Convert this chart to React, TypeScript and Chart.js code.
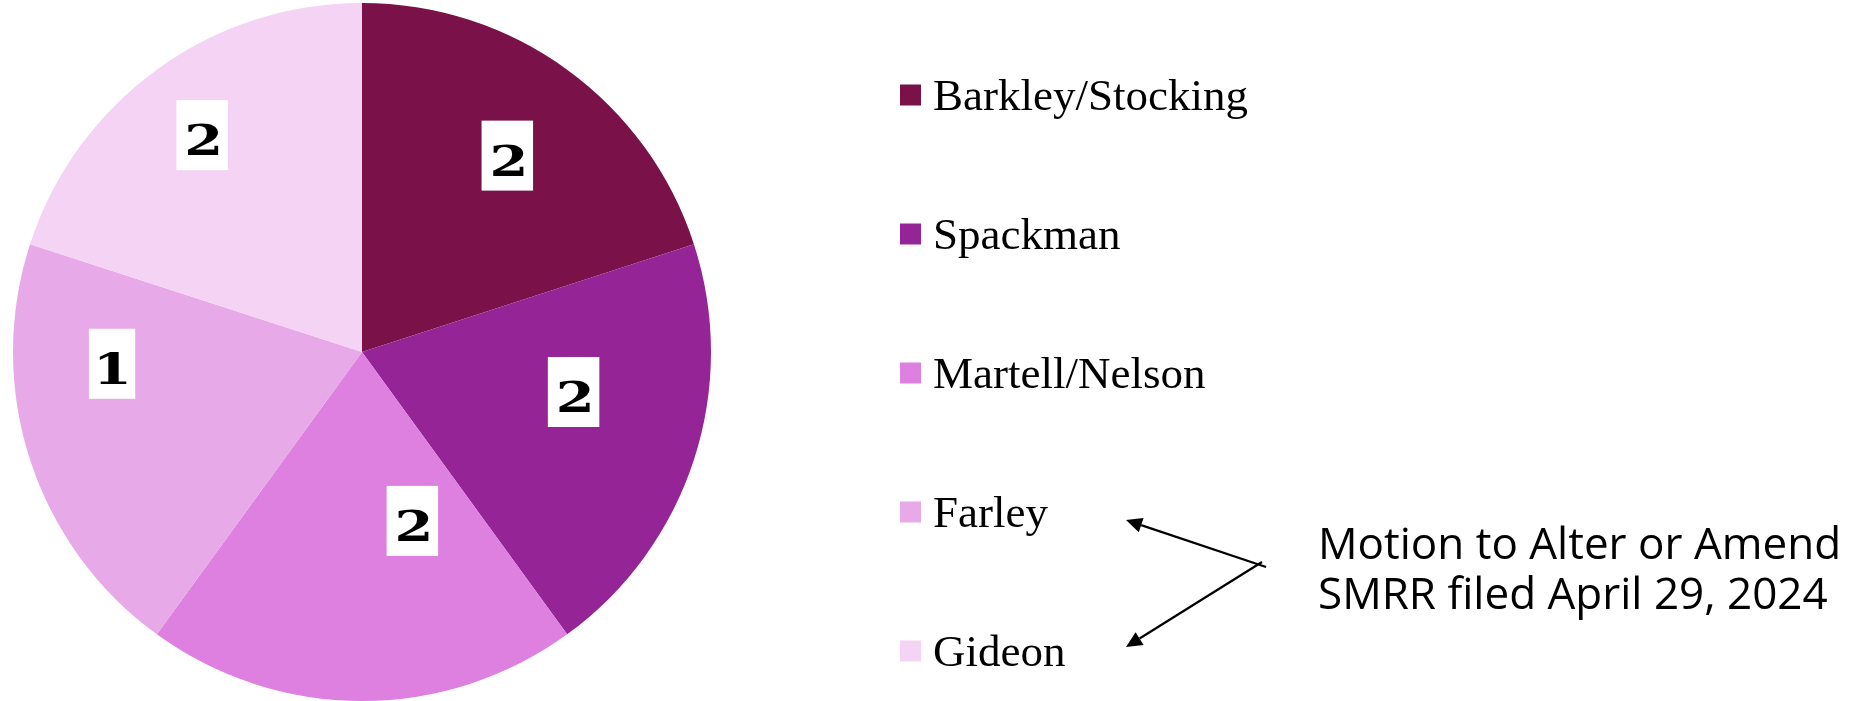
import React, { useEffect, useRef } from "react";
import { Chart, registerables } from "chart.js";

Chart.register(...registerables);

// ---- Data ----
const categories = ["Barkley/Stocking", "Spackman", "Martell/Nelson", "Farley", "Gideon"];
const sliceValues = [1, 1, 1, 1, 1];
const labelValues = [2, 2, 2, 1, 2];
const sliceColors = ["#7A1149", "#952496", "#DE80DF", "#E8A9E8", "#F4D3F4"];
const annotationLines = ["Motion to Alter or Amend", "SMRR filed April 29, 2024"];

// ---- Label placement (radius fraction, angle offset in degrees from slice middle) ----
const labelPlacement = [
  { r: 0.70, da: 0.5 },
  { r: 0.617, da: -7.3 },
  { r: 0.505, da: -16.6 },
  { r: 0.717, da: 15.3 },
  { r: 0.772, da: -0.4 },
];

const boxLabelPlugin = {
  id: "boxLabels",
  afterDatasetsDraw(chart: any, _args: any, opts: any) {
    const ctx = chart.ctx as CanvasRenderingContext2D;
    const meta = chart.getDatasetMeta(0);
    meta.data.forEach((arc: any, i: number) => {
      const p = arc.getProps(["x", "y", "startAngle", "endAngle", "outerRadius"], true);
      const place = opts.placement[i];
      const a = (p.startAngle + p.endAngle) / 2 + (place.da * Math.PI) / 180;
      const cx = p.x + Math.cos(a) * p.outerRadius * place.r;
      const cy = p.y + Math.sin(a) * p.outerRadius * place.r;
      const txt = String(opts.values[i]);
      ctx.save();
      ctx.font = opts.font;
      ctx.textAlign = "center";
      ctx.textBaseline = "alphabetic";
      const m = ctx.measureText(txt);
      const inkW = (m.actualBoundingBoxLeft + m.actualBoundingBoxRight) * opts.scaleX;
      const w = inkW + 19;
      const h = 70;
      ctx.fillStyle = "#ffffff";
      ctx.fillRect(cx - w / 2, cy - h / 2, w, h);
      ctx.translate(cx + 1, cy + 20);
      ctx.scale(opts.scaleX, 1);
      ctx.fillStyle = "#000000";
      const inkCenter = (m.actualBoundingBoxRight - m.actualBoundingBoxLeft) / 2;
      ctx.fillText(txt, -inkCenter, 0);
      ctx.restore();
    });
  },
};

const sideLegendPlugin = {
  id: "sideLegend",
  afterDraw(chart: any, _args: any, opts: any) {
    const ctx = chart.ctx as CanvasRenderingContext2D;
    const labels: string[] = chart.data.labels;
    const colors: string[] = chart.data.datasets[0].backgroundColor;
    ctx.save();
    ctx.font = opts.font;
    ctx.textAlign = "left";
    ctx.textBaseline = "alphabetic";
    labels.forEach((lab, i) => {
      const cy = opts.y0 + i * opts.step;
      ctx.fillStyle = colors[i];
      ctx.fillRect(opts.x, cy - opts.box / 2, opts.box, opts.box);
      ctx.fillStyle = "#000000";
      ctx.fillText(lab, opts.textX, cy + 15);
    });
    ctx.restore();
  },
};

function drawArrow(ctx: CanvasRenderingContext2D, x1: number, y1: number, x2: number, y2: number) {
  const ang = Math.atan2(y2 - y1, x2 - x1);
  const hl = 16;
  const hw = 7.5;
  const bx = x2 - Math.cos(ang) * hl;
  const by = y2 - Math.sin(ang) * hl;
  ctx.beginPath();
  ctx.moveTo(x1, y1);
  ctx.lineTo(bx, by);
  ctx.stroke();
  ctx.beginPath();
  ctx.moveTo(x2, y2);
  ctx.lineTo(bx + Math.sin(ang) * hw, by - Math.cos(ang) * hw);
  ctx.lineTo(bx - Math.sin(ang) * hw, by + Math.cos(ang) * hw);
  ctx.closePath();
  ctx.fill();
}

const annotationPlugin = {
  id: "noteAnnotation",
  afterDraw(chart: any, _args: any, opts: any) {
    const ctx = chart.ctx as CanvasRenderingContext2D;
    ctx.save();
    ctx.fillStyle = "#000000";
    ctx.strokeStyle = "#000000";
    ctx.lineWidth = 2.2;
    ctx.font = opts.font;
    ctx.textAlign = "left";
    ctx.textBaseline = "alphabetic";
    opts.lines.forEach((line: string, i: number) => {
      ctx.fillText(line, opts.x, opts.baseline + i * opts.lineStep);
    });
    drawArrow(ctx, 1266, 567, 1126, 520);
    drawArrow(ctx, 1262, 562, 1126, 647);
    ctx.restore();
  },
};

export default function App() {
  const ref = useRef<HTMLCanvasElement>(null);
  useEffect(() => {
    document.body.style.margin = "0";
    const chart = new Chart(ref.current as HTMLCanvasElement, {
      type: "pie",
      data: {
        labels: categories,
        datasets: [
          {
            data: sliceValues,
            backgroundColor: sliceColors,
            borderWidth: 0,
          },
        ],
      },
      options: {
        animation: false,
        responsive: false,
        maintainAspectRatio: false,
        layout: { padding: { left: 13, top: 3, right: 1146, bottom: 0 } },
        plugins: {
          legend: { display: false },
          tooltip: { enabled: false },
          boxLabels: {
            values: labelValues,
            placement: labelPlacement,
            font: "bold 43px 'DejaVu Serif'",
            scaleX: 1.3,
          },
          sideLegend: {
            x: 900,
            textX: 933,
            y0: 95,
            step: 139,
            box: 21,
            font: "45px 'Liberation Serif'",
          },
          noteAnnotation: {
            lines: annotationLines,
            x: 1318,
            baseline: 559,
            lineStep: 50,
            font: "44px 'Open Sans'",
          },
        } as any,
      },
      plugins: [boxLabelPlugin, sideLegendPlugin, annotationPlugin],
    });
    return () => chart.destroy();
  }, []);
  return (
    <div style={{ width: 1857, height: 701 }}>
      <canvas ref={ref} width={1857} height={701} style={{ display: "block" }} />
    </div>
  );
}
